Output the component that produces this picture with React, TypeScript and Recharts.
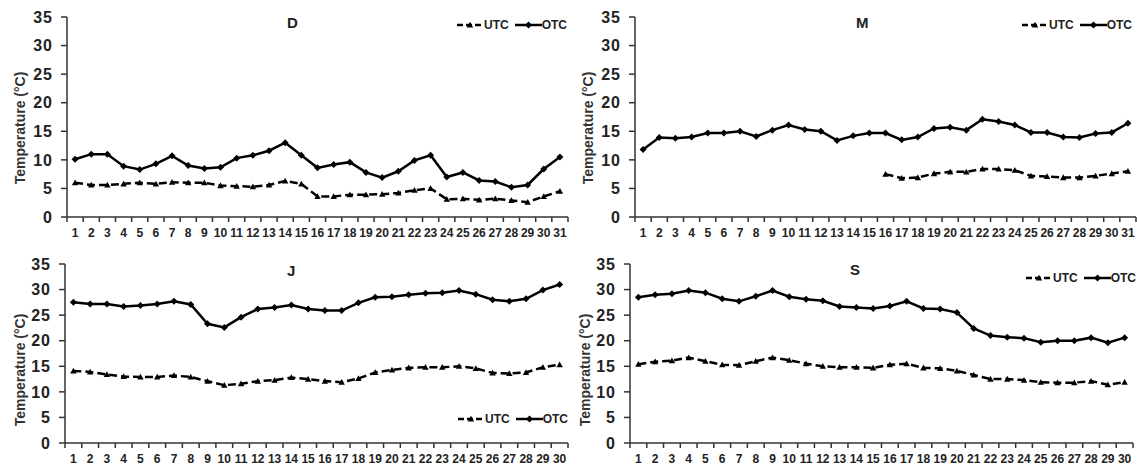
import { LineChart, Line, XAxis, YAxis } from "recharts"

const DAYS_31 = [1, 2, 3, 4, 5, 6, 7, 8, 9, 10, 11, 12, 13, 14, 15, 16, 17, 18, 19, 20, 21, 22, 23, 24, 25, 26, 27, 28, 29, 30, 31]
const DAYS_30 = [1, 2, 3, 4, 5, 6, 7, 8, 9, 10, 11, 12, 13, 14, 15, 16, 17, 18, 19, 20, 21, 22, 23, 24, 25, 26, 27, 28, 29, 30]
const Y_TICKS = [0, 5, 10, 15, 20, 25, 30, 35]

const D_UTC = [6.0, 5.6, 5.6, 5.8, 6.0, 5.8, 6.1, 6.0, 6.0, 5.5, 5.4, 5.3, 5.6, 6.3, 5.8, 3.6, 3.6, 3.9, 3.9, 4.0, 4.2, 4.7, 5.0, 3.1, 3.2, 3.0, 3.2, 2.9, 2.6, 3.6, 4.5]
const D_OTC = [10.1, 11.0, 11.0, 8.9, 8.3, 9.3, 10.7, 9.0, 8.5, 8.7, 10.3, 10.8, 11.6, 13.0, 10.8, 8.6, 9.2, 9.6, 7.8, 6.9, 8.0, 9.9, 10.8, 7.0, 7.8, 6.4, 6.2, 5.2, 5.6, 8.4, 10.5]

const M_UTC = [null, null, null, null, null, null, null, null, null, null, null, null, null, null, null, 7.5, 6.8, 6.9, 7.6, 7.9, 7.9, 8.4, 8.4, 8.2, 7.2, 7.1, 6.9, 6.9, 7.2, 7.6, 8.0]
const M_OTC = [11.8, 13.9, 13.8, 14.0, 14.7, 14.7, 15.0, 14.1, 15.2, 16.1, 15.3, 15.0, 13.4, 14.2, 14.7, 14.7, 13.5, 14.0, 15.5, 15.7, 15.2, 17.1, 16.7, 16.1, 14.8, 14.8, 14.0, 13.9, 14.6, 14.8, 16.4]

const J_UTC = [14.1, 13.9, 13.4, 13.0, 12.9, 12.9, 13.2, 12.9, 12.1, 11.3, 11.6, 12.1, 12.3, 12.8, 12.5, 12.1, 11.9, 12.6, 13.8, 14.3, 14.7, 14.8, 14.8, 15.0, 14.6, 13.7, 13.6, 13.8, 14.8, 15.3]
const J_OTC = [27.5, 27.2, 27.2, 26.7, 26.9, 27.2, 27.7, 27.1, 23.3, 22.6, 24.6, 26.2, 26.5, 27.0, 26.2, 25.9, 25.9, 27.4, 28.5, 28.6, 29.0, 29.3, 29.4, 29.8, 29.1, 28.0, 27.7, 28.2, 29.9, 31.0]

const S_UTC = [15.4, 15.9, 16.1, 16.7, 16.0, 15.3, 15.2, 16.0, 16.7, 16.2, 15.5, 15.0, 14.8, 14.8, 14.7, 15.3, 15.5, 14.7, 14.6, 14.1, 13.3, 12.5, 12.5, 12.3, 11.9, 11.8, 11.8, 12.1, 11.4, 11.9]
const S_OTC = [28.5, 29.0, 29.2, 29.8, 29.4, 28.2, 27.7, 28.7, 29.8, 28.6, 28.1, 27.8, 26.7, 26.5, 26.3, 26.8, 27.7, 26.3, 26.2, 25.5, 22.4, 21.0, 20.7, 20.5, 19.7, 20.0, 20.0, 20.6, 19.6, 20.6]

const TEXT = "#222"
const FONT = "'Liberation Sans', Arial, sans-serif"

function triangle(cx: number, cy: number, r: number) {
  return `${cx},${cy - r} ${cx + r},${cy + r * 0.8} ${cx - r},${cy + r * 0.8}`
}

function diamond(cx: number, cy: number, r: number) {
  return `${cx},${cy - r} ${cx + r},${cy} ${cx},${cy + r} ${cx - r},${cy}`
}

function TriangleDot(props: any) {
  const { cx, cy, index } = props
  if (cx == null || cy == null || props.value == null) return <g key={`t${index}`} />
  return <polygon key={`t${index}`} points={triangle(cx, cy, 3.2)} fill="#000" />
}

function DiamondDot(props: any) {
  const { cx, cy, index } = props
  if (cx == null || cy == null) return <g key={`d${index}`} />
  return <polygon key={`d${index}`} points={diamond(cx, cy, 3.5)} fill="#000" />
}

function LegendBox() {
  return (
    <div style={{ display: "flex", alignItems: "center", fontSize: 12, fontWeight: "bold", color: TEXT, fontFamily: FONT, lineHeight: "14px", whiteSpace: "nowrap" }}>
      <svg width={26} height={10}>
        <line x1={0} y1={5} x2={26} y2={5} stroke="#000" strokeWidth={2.5} strokeDasharray="6 3" />
        <polygon points={triangle(13, 5, 3.2)} fill="#000" />
      </svg>
      <span style={{ marginLeft: 1 }}>UTC</span>
      <svg width={27} height={10} style={{ marginLeft: 6 }}>
        <line x1={0} y1={5} x2={27} y2={5} stroke="#000" strokeWidth={2.5} />
        <polygon points={diamond(13.5, 5, 3.5)} fill="#000" />
      </svg>
      <span>OTC</span>
    </div>
  )
}

type PanelProps = {
  title: string
  days: number[]
  utc: (number | null)[]
  otc: number[]
  left: number
  top: number
  width: number
  height: number
  marginTop: number
  marginRight: number
  yWidth: number
  xHeight: number
  xTickMargin: number
  titlePos: [number, number]
  legendPos: [number, number]
  labelPos: [number, number]
}

function Panel(p: PanelProps) {
  const data = p.days.map((d, i) => ({ day: d, utc: p.utc[i], otc: p.otc[i] }))
  const n = p.days.length
  const boundaries = p.days.map((d) => d - 0.5).concat([n + 0.5])
  const plotWidth = p.width - p.marginRight - p.yWidth
  const half = plotWidth / n / 2

  // labels sit between the tick marks, Excel style
  const renderTick = (t: any) => {
    const label = t.payload.value + 0.5
    if (label > n) return <g />
    return (
      <text x={t.x + half} y={t.y} dy="0.75em" textAnchor="middle" fontSize={12} fontWeight="bold" fill={TEXT} fontFamily={FONT}>
        {label}
      </text>
    )
  }

  return (
    <div style={{ position: "absolute", left: p.left, top: p.top, width: p.width, height: p.height }}>
      <LineChart
        width={p.width}
        height={p.height}
        data={data}
        margin={{ top: p.marginTop, right: p.marginRight, left: 0, bottom: 0 }}
      >
        <XAxis
          dataKey="day"
          type="number"
          domain={[0.5, n + 0.5]}
          ticks={boundaries}
          interval={0}
          height={p.xHeight}
          tickSize={5}
          tickMargin={p.xTickMargin}
          tick={renderTick}
          axisLine={{ stroke: "#333", strokeWidth: 1.5 }}
          tickLine={{ stroke: "#333", strokeWidth: 1.5 }}
        />
        <YAxis
          domain={[0, 35]}
          ticks={Y_TICKS}
          interval={0}
          width={p.yWidth}
          tickSize={6}
          tickMargin={8}
          tick={{ fontSize: 16, fontWeight: "bold", fill: TEXT, fontFamily: FONT, letterSpacing: 1 }}
          axisLine={{ stroke: "#333", strokeWidth: 1.5 }}
          tickLine={{ stroke: "#333", strokeWidth: 1.5 }}
        />
        <Line
          dataKey="utc"
          name="UTC"
          stroke="#000"
          strokeWidth={2.5}
          strokeDasharray="8 4"
          dot={(d: any) => <TriangleDot {...d} key={`t${d.index}`} />}
          activeDot={false}
          connectNulls={false}
          isAnimationActive={false}
        />
        <Line
          dataKey="otc"
          name="OTC"
          stroke="#000"
          strokeWidth={2.5}
          dot={(d: any) => <DiamondDot {...d} key={`d${d.index}`} />}
          activeDot={false}
          isAnimationActive={false}
        />
      </LineChart>
      <div style={{ position: "absolute", left: p.legendPos[0] - p.left, top: p.legendPos[1] - p.top }}>
        <LegendBox />
      </div>
      <div style={{ position: "absolute", left: p.titlePos[0] - p.left, top: p.titlePos[1] - p.top, fontSize: 15, fontWeight: "bold", color: TEXT, fontFamily: FONT, lineHeight: "17px" }}>
        {p.title}
      </div>
      <div
        style={{
          position: "absolute",
          left: p.labelPos[0] - p.left,
          top: p.labelPos[1] - p.top,
          transform: "translate(-50%, -50%) rotate(-90deg)",
          fontSize: 14,
          fontWeight: "bold",
          color: "#333",
          fontFamily: FONT,
          whiteSpace: "nowrap",
          lineHeight: "16px",
        }}
      >
        Temperature (°C)
      </div>
    </div>
  )
}

export default function App() {
  return (
    <div style={{ position: "absolute", left: 0, top: 0, width: 1137, height: 468, background: "#fff", overflow: "hidden" }}>
      <Panel
        title="D" days={DAYS_31} utc={D_UTC} otc={D_OTC}
        left={0} top={0} width={570} height={242}
        marginTop={17} marginRight={2} yWidth={67} xHeight={25} xTickMargin={6}
        titlePos={[287, 14]} legendPos={[457, 18]} labelPos={[20, 128]}
      />
      <Panel
        title="M" days={DAYS_31} utc={M_UTC} otc={M_OTC}
        left={568} top={0} width={569} height={242}
        marginTop={17} marginRight={1} yWidth={67} xHeight={25} xTickMargin={6}
        titlePos={[856, 14]} legendPos={[1022, 18]} labelPos={[588, 128]}
      />
      <Panel
        title="J" days={DAYS_30} utc={J_UTC} otc={J_OTC}
        left={0} top={242} width={570} height={226}
        marginTop={22} marginRight={2} yWidth={65} xHeight={25} xTickMargin={6}
        titlePos={[287, 262]} legendPos={[458, 412]} labelPos={[20, 370]}
      />
      <Panel
        title="S" days={DAYS_30} utc={S_UTC} otc={S_OTC}
        left={568} top={242} width={569} height={226}
        marginTop={22} marginRight={4} yWidth={62} xHeight={25} xTickMargin={6}
        titlePos={[850, 261]} legendPos={[1026, 271]} labelPos={[585, 370]}
      />
    </div>
  )
}
